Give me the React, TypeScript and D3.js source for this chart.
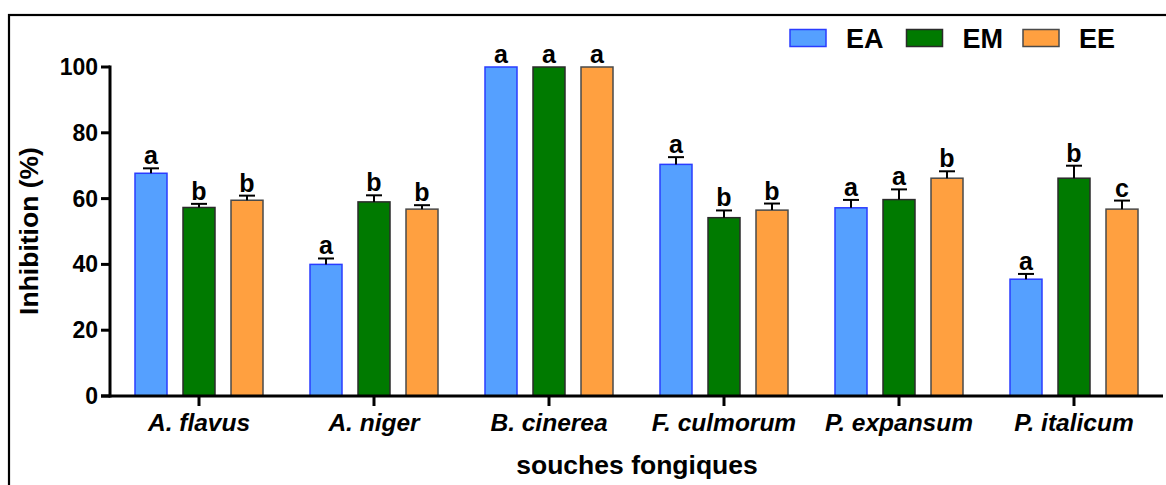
import React from "react";
import * as d3 from "d3";

const categories = ["A. flavus", "A. niger", "B. cinerea", "F. culmorum", "P. expansum", "P. italicum"];
const seriesNames = ["EA", "EM", "EE"];
const eaValues = [67.7, 40.0, 100, 70.4, 57.2, 35.5];
const emValues = [57.3, 59.0, 100, 54.2, 59.7, 66.2];
const eeValues = [59.5, 56.8, 100, 56.5, 66.2, 56.8];
const eaErrors = [1.5, 1.8, 0, 2.2, 2.4, 1.6];
const emErrors = [1.1, 2.0, 0, 2.2, 3.1, 3.8];
const eeErrors = [1.4, 1.2, 0, 2.0, 2.1, 2.6];
const eaLetters = ["a", "a", "a", "a", "a", "a"];
const emLetters = ["b", "b", "a", "b", "a", "b"];
const eeLetters = ["b", "b", "a", "b", "b", "c"];
const yTicks = [0, 20, 40, 60, 80, 100];
const yLabel = "Inhibition (%)";
const xLabel = "souches fongiques";

const fills = ["#55a0ff", "#007a00", "#ffa040"];
const strokes = ["#2a3cff", "#2b2b2b", "#4a4a4a"];
const FONT = "'Liberation Sans', Arial, Helvetica, sans-serif";

export default function App() {
  const W = 1166, H = 485;
  const x0 = 110, x1 = 1163;
  const y = d3.scaleLinear().domain([0, 100]).range([396, 67]);
  const xBand = d3.scaleBand<string>().domain(categories).range([111.5, 1161.5]).paddingInner(0).paddingOuter(0);
  const vals = [eaValues, emValues, eeValues];
  const errs = [eaErrors, emErrors, eeErrors];
  const lets = [eaLetters, emLetters, eeLetters];
  const bw = 32;
  const subOffsets = [-48, 0, 48];

  return (
    <svg width={W} height={H} style={{ position: "fixed", left: 0, top: 0, background: "#fff" }} fontFamily={FONT}>
      <rect x={0} y={0} width={W} height={H} fill="#fff" />
      <rect x={9} y={15} width={W + 20} height={H + 20} fill="none" stroke="#000" strokeWidth={2.2} />

      {/* bars */}
      {categories.map((c, i) => {
        const cx = (xBand(c) as number) + xBand.bandwidth() / 2;
        return (
          <g key={c}>
            {seriesNames.map((s, k) => {
              const v = vals[k][i];
              const e = errs[k][i];
              const bx = cx + subOffsets[k] - bw / 2;
              const top = y(v);
              const capY = y(v + e);
              return (
                <g key={s}>
                  <rect x={bx} y={top} width={bw} height={y(0) - top} fill={fills[k]} stroke={strokes[k]} strokeWidth={1.5} />
                  {e > 0 && (
                    <g stroke="#000" strokeWidth={2}>
                      <line x1={bx + bw / 2} x2={bx + bw / 2} y1={top} y2={capY} />
                      <line x1={bx + bw / 2 - 8} x2={bx + bw / 2 + 8} y1={capY} y2={capY} />
                    </g>
                  )}
                  <text x={bx + bw / 2} y={capY - 4} textAnchor="middle" fontSize={25} fontWeight="bold" fill="#000">
                    {lets[k][i]}
                  </text>
                </g>
              );
            })}
          </g>
        );
      })}

      {/* y axis */}
      <line x1={x0} x2={x0} y1={y(100) - 1.5} y2={y(0) + 1.5} stroke="#000" strokeWidth={3} />
      {yTicks.map((t) => (
        <g key={t}>
          <line x1={x0 - 9} x2={x0} y1={y(t)} y2={y(t)} stroke="#000" strokeWidth={3} />
          <text x={x0 - 12} y={y(t) + 8} textAnchor="end" fontSize={23} fontWeight="bold">
            {t}
          </text>
        </g>
      ))}

      {/* x axis */}
      <line x1={x0 - 9} x2={x1} y1={y(0)} y2={y(0)} stroke="#000" strokeWidth={3} />
      {categories.map((c) => {
        const cx = (xBand(c) as number) + xBand.bandwidth() / 2;
        return (
          <g key={c}>
            <line x1={cx} x2={cx} y1={y(0)} y2={y(0) + 10} stroke="#000" strokeWidth={3} />
            <text x={cx} y={431} textAnchor="middle" fontSize={24.5} fontWeight="bold" fontStyle="italic">
              {c}
            </text>
          </g>
        );
      })}

      {/* axis titles */}
      <text x={637} y={474} textAnchor="middle" fontSize={26.5} fontWeight="bold">
        {xLabel}
      </text>
      <text transform="translate(38,231) rotate(-90)" textAnchor="middle" fontSize={26.5} fontWeight="bold">
        {yLabel}
      </text>

      {/* legend */}
      {seriesNames.map((s, k) => {
        const lx = 790 + k * 116.5;
        return (
          <g key={s}>
            <rect x={lx} y={29.5} width={36} height={17} fill={fills[k]} stroke={strokes[k]} strokeWidth={1.5} />
            <text x={lx + 56} y={47.5} fontSize={27} fontWeight="bold">
              {s}
            </text>
          </g>
        );
      })}
    </svg>
  );
}
